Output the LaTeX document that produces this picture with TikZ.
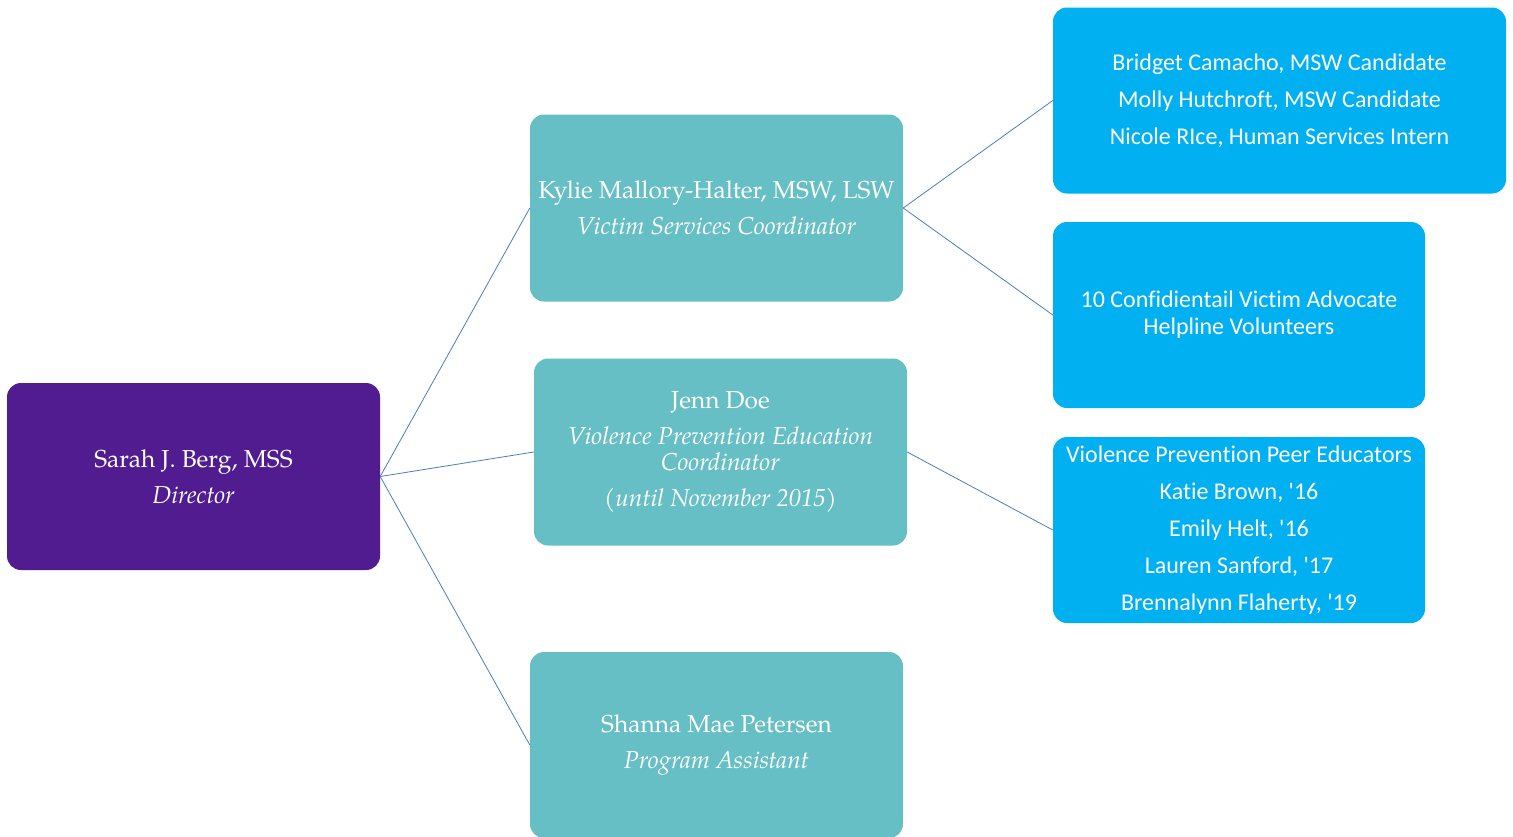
\documentclass[tikz,border=0pt]{standalone}
\usepackage{fontspec}
\setmainfont{TeX Gyre Pagella}
\newfontfamily\teamfont[Ligatures={NoCommon}]{Carlito}
\definecolor{dirpurple}{HTML}{501C8F}
\definecolor{staffteal}{HTML}{66BFC4}
\definecolor{teamblue}{HTML}{00B0F0}
\definecolor{linkblue}{HTML}{4A7EBB}

\begin{document}
\begin{tikzpicture}
        [x=1pt, y=-1pt,
        box/.style={rounded corners=14pt, align=center, text=white, inner sep=0pt},
        chief/.style={box, fill=dirpurple, minimum width=373pt, minimum height=187pt, font=\fontsize{24.5}{26}\selectfont},
        staff/.style={box, fill=staffteal, minimum width=373pt, minimum height=187pt, font=\fontsize{24.5}{26}\selectfont},
        team/.style={box, fill=teamblue, minimum height=186pt, font=\teamfont\fontsize{24}{27}\selectfont},
        edge/.style={linkblue, line width=0.8pt}]

        \useasboundingbox (0, 0) rectangle (1513, 836);

        % director
        \node[chief] (berg) at (193.5, 476.5) {Sarah J. Berg, MSS\\[10pt]\textit{Director}};

        % coordinators
        \node[staff] (mallory) at (716.5, 208) {Kylie Mallory-Halter, MSW, LSW\\[10pt]\textit{Victim Services Coordinator}};
        \node[staff] (doe) at (720.5, 452) {Jenn Doe\\[10pt]\textit{Violence Prevention Education}\\\textit{Coordinator}\\[10pt]\textit{(until November 2015)}};
        \node[staff, minimum height=186pt] (petersen) at (716.5, 745) {Shanna Mae Petersen\\[10pt]\textit{Program Assistant}};

        % volunteers and interns
        \node[team, minimum width=453pt] (interns) at (1279.5, 100.5) {Bridget Camacho, MSW Candidate\\[10pt]Molly Hutchroft, MSW Candidate\\[10pt]Nicole RIce, Human Services Intern};
        \node[team, minimum width=372pt] (helpline) at (1239, 315) {10 Confidientail Victim Advocate\\Helpline Volunteers};
        \node[team, minimum width=372pt] (peers) at (1239, 530) {Violence Prevention Peer Educators\\[10pt]Katie Brown, \textquotesingle16\\[10pt]Emily Helt, \textquotesingle16\\[10pt]Lauren Sanford, \textquotesingle17\\[10pt]Brennalynn Flaherty, \textquotesingle19};

        % links
        \draw[edge] (berg.east) -- (mallory.west);
        \draw[edge] (berg.east) -- (doe.west);
        \draw[edge] (berg.east) -- (petersen.west);
        \draw[edge] (mallory.east) -- (interns.west);
        \draw[edge] (mallory.east) -- (helpline.west);
        \draw[edge] (doe.east) -- (peers.west);

\end{tikzpicture}
\end{document}
